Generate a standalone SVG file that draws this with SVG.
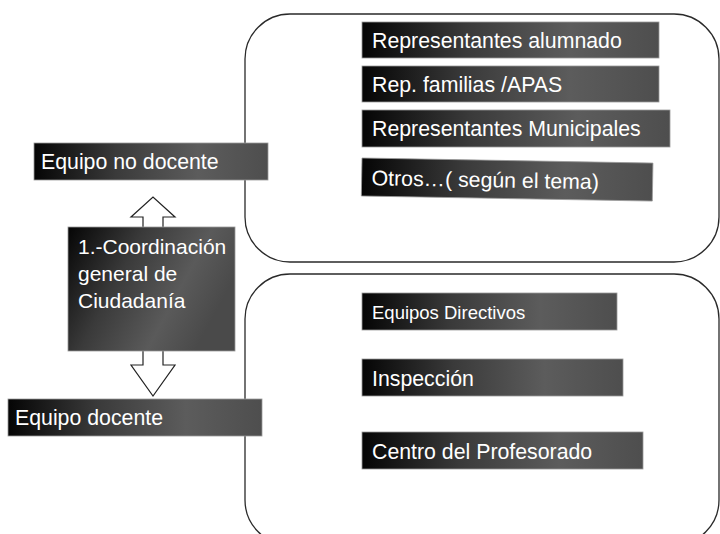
<svg xmlns="http://www.w3.org/2000/svg" width="720" height="534" viewBox="0 0 720 534">
<defs>
<linearGradient id="g" x1="0" y1="0" x2="1" y2="0">
<stop offset="0" stop-color="#050505"/>
<stop offset="0.35" stop-color="#3a3a3a"/>
<stop offset="0.7" stop-color="#5c5c5c"/>
<stop offset="1" stop-color="#4e4e4e"/>
</linearGradient>
<linearGradient id="gv" x1="0" y1="0" x2="1" y2="0.4">
<stop offset="0" stop-color="#050505"/>
<stop offset="0.4" stop-color="#3a3a3a"/>
<stop offset="0.75" stop-color="#5a5a5a"/>
<stop offset="1" stop-color="#4a4a4a"/>
</linearGradient>
<style>
.b{fill:url(#g);stroke:#9a9a9a;stroke-width:0.8}
.t{font-family:"Liberation Sans",Arial,sans-serif;fill:#fff;font-size:21.3px}
.grp{fill:none;stroke:#2a2a2a;stroke-width:1.3}
.arr{fill:#fff;stroke:#222;stroke-width:1.2}
</style>
</defs>
<rect width="720" height="534" fill="#fff"/>
<g id="groups">
<rect class="grp" x="245" y="14" width="474" height="248" rx="45" ry="45"/>
<rect class="grp" x="245" y="274" width="474" height="271" rx="45" ry="45"/>
</g>
<g id="connectors">
<path class="arr" d="M143,227 L143,217 L131,217 L153,197 L175,217 L163,217 L163,227"/>
<path class="arr" d="M143,351 L143,365 L131,365 L153,396 L175,365 L163,365 L163,351"/>
</g>
<g id="no-docente">
<rect class="b" x="34" y="143" width="234" height="37"/>
<text class="t" x="41" y="169">Equipo no docente</text>
</g>
<g id="coordinacion">
<rect x="68" y="227" width="167" height="124" fill="url(#gv)" stroke="#9a9a9a" stroke-width="0.8"/>
<text class="t" x="78" y="254" style="font-size:21px">1.-Coordinación</text>
<text class="t" x="78" y="281" style="font-size:21px">general de</text>
<text class="t" x="78" y="308" style="font-size:21px">Ciudadanía</text>
</g>
<g id="docente">
<rect class="b" x="8" y="399" width="254" height="37"/>
<text class="t" x="15" y="425">Equipo docente</text>
</g>
<g id="alumnado">
<rect class="b" x="362" y="22" width="297" height="36"/>
<text class="t" x="372" y="48">Representantes alumnado</text>
</g>
<g id="familias">
<rect class="b" x="362" y="66" width="297" height="36"/>
<text class="t" x="372" y="92">Rep. familias /APAS</text>
</g>
<g id="municipales">
<rect class="b" x="362" y="110" width="308" height="37"/>
<text class="t" x="372" y="136">Representantes Municipales</text>
</g>
<g id="otros" transform="rotate(1 362 158)">
<rect class="b" x="362" y="158" width="291" height="38"/>
<text class="t" x="372" y="185">Otros…( según el tema)</text>
</g>
<g id="directivos">
<rect class="b" x="362" y="293" width="255" height="37"/>
<text class="t" x="372" y="319" style="font-size:18.5px">Equipos Directivos</text>
</g>
<g id="inspeccion">
<rect class="b" x="362" y="359" width="261" height="37"/>
<text class="t" x="372" y="386">Inspección</text>
</g>
<g id="cep">
<rect class="b" x="362" y="432" width="281" height="37"/>
<text class="t" x="372" y="459">Centro del Profesorado</text>
</g>
</svg>
